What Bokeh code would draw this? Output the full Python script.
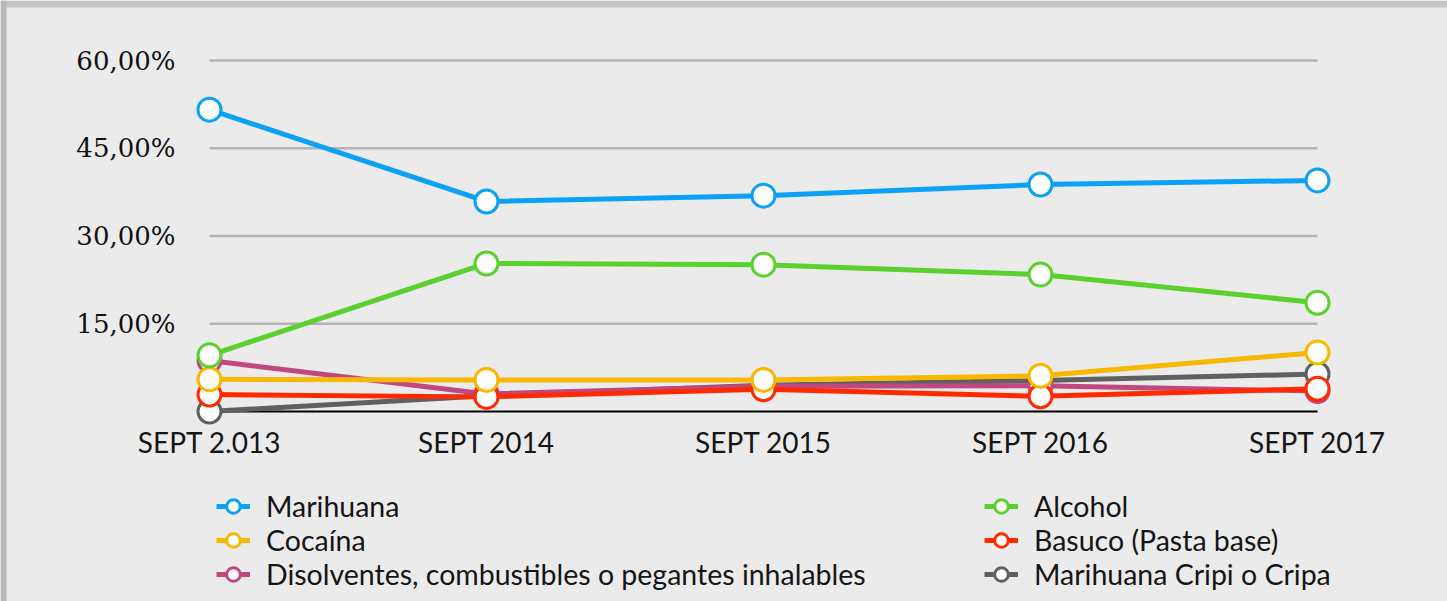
from bokeh.plotting import figure
from bokeh.models import Range1d, FixedTicker, Legend, LegendItem, ColumnDataSource, BoxAnnotation
from bokeh.embed import file_html
from bokeh.resources import INLINE

# ---- data ----
periods = ["SEPT 2.013", "SEPT 2014", "SEPT 2015", "SEPT 2016", "SEPT 2017"]
marihuana = [51.6, 35.9, 36.9, 38.8, 39.5]
alcohol = [9.6, 25.3, 25.1, 23.4, 18.6]
cocaina = [5.5, 5.4, 5.4, 6.1, 10.1]
basuco = [2.9, 2.5, 3.8, 2.6, 3.9]
disolventes = [8.7, 3.0, 4.3, 4.4, 3.5]
cripa = [0.0, 2.7, 4.5, 5.3, 6.4]
y_ticks = [15, 30, 45, 60]
y_tick_labels = ["15,00%", "30,00%", "45,00%", "60,00%"]

series = [
    ("Marihuana", marihuana, "#0aa1f7"),
    ("Cocaína", cocaina, "#f8b800"),
    ("Disolventes, combustibles o pegantes inhalables", disolventes, "#c1487f"),
    ("Alcohol", alcohol, "#5ad12e"),
    ("Basuco (Pasta base)", basuco, "#ff2a00"),
    ("Marihuana Cripi o Cripa", cripa, "#606060"),
]
draw_order = [5, 2, 4, 1, 3, 0]

xs = list(range(len(periods)))
BG = "#ebebeb"

# layout (pixels on the page)
W, H = 1447, 601
X_FIRST, X_LAST = 209, 1317      # pixel of first / last period
Y_ZERO, Y_TOP = 411, 60          # pixel of 0 % and 60 %
px_x = (X_LAST - X_FIRST) / (xs[-1] - xs[0])
px_y = (Y_ZERO - Y_TOP) / 60.0
x_start = xs[0] - X_FIRST / px_x
x_end = xs[-1] + (W - X_LAST) / px_x
y_start = -(H - Y_ZERO) / px_y
y_end = 60 + Y_TOP / px_y

p = figure(width=W, height=H, output_backend="svg", toolbar_location=None,
           x_range=Range1d(x_start, x_end), y_range=Range1d(y_start, y_end),
           min_border_left=0, min_border_right=0, min_border_top=0, min_border_bottom=0,
           background_fill_color=BG, border_fill_color=BG, outline_line_color=None)

p.xgrid.visible = False
p.ygrid.visible = False

# decorative shadow strips (top and left edges)
p.add_layout(BoxAnnotation(left=0, right=W, top=0, bottom=7,
                           left_units="canvas", right_units="canvas",
                           top_units="canvas", bottom_units="canvas",
                           fill_color="#c6c6c6", fill_alpha=1, line_color=None, level="underlay"))
p.add_layout(BoxAnnotation(left=0, right=6, top=0, bottom=H,
                           left_units="canvas", right_units="canvas",
                           top_units="canvas", bottom_units="canvas",
                           fill_color="#b8b8b8", fill_alpha=1, line_color=None, level="underlay"))

# grid lines spanning the data extent only
p.segment(x0=[xs[0]] * len(y_ticks), x1=[xs[-1]] * len(y_ticks), y0=y_ticks, y1=y_ticks,
          line_color="#b4b4b4", line_width=2.5)

# x axis at y = 0
xa = p.xaxis[0]
xa.fixed_location = 0
xa.bounds = (xs[0], xs[-1])
xa.ticker = FixedTicker(ticks=xs)
xa.major_label_overrides = {i: lab for i, lab in enumerate(periods)}
xa.axis_line_color = "#000000"
xa.axis_line_width = 2
xa.major_tick_line_color = None
xa.minor_tick_line_color = None
xa.major_tick_out = 0
xa.major_tick_in = 0
xa.major_label_standoff = 13
xa.major_label_text_font = "Lato"
xa.major_label_text_font_size = "28px"
xa.major_label_text_color = "#151515"
xa.level = "underlay"

# y axis at first period
ya = p.yaxis[0]
ya.fixed_location = xs[0]
ya.ticker = FixedTicker(ticks=y_ticks)
ya.major_label_overrides = {t: l for t, l in zip(y_ticks, y_tick_labels)}
ya.axis_line_color = None
ya.major_tick_line_color = None
ya.minor_tick_line_color = None
ya.major_tick_out = 0
ya.major_tick_in = 0
ya.major_label_standoff = 34
ya.major_label_text_font = "DejaVu Serif"
ya.major_label_text_font_size = "26px"
ya.major_label_text_color = "#111111"

renderers = {}
for i in draw_order:
    name, vals, col = series[i]
    src = ColumnDataSource(dict(x=xs, y=vals))
    lr = p.line("x", "y", source=src, line_color=col, line_width=5)
    sr = p.scatter("x", "y", source=src, marker="circle", size=23,
                   fill_color="white", line_color=col, line_width=3)
    renderers[i] = [lr, sr]

def make_legend(idx, vx):
    items = [LegendItem(label=series[i][0], renderers=renderers[i]) for i in idx]
    lg = Legend(items=items, location=(vx, 10), orientation="vertical",
                background_fill_alpha=0, border_line_color=None,
                padding=2, spacing=0, glyph_width=34, glyph_height=34,
                label_height=34, label_standoff=16,
                label_text_font="Lato", label_text_font_size="28.5px",
                label_text_color="#151515", label_text_baseline="middle")
    p.add_layout(lg, "center")

make_legend([0, 1, 2], 216)
make_legend([3, 4, 5], 984)

open("out.html", "w").write(file_html(p, INLINE))
